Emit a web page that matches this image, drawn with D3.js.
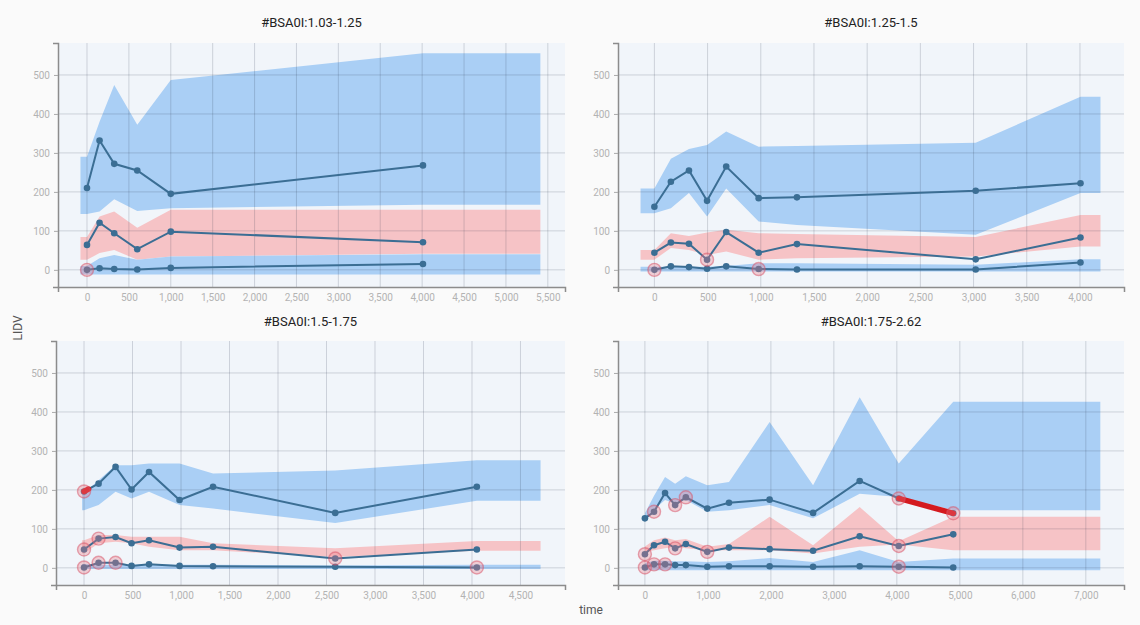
<!DOCTYPE html>
<html><head><meta charset="utf-8">
<script src="https://cdn.jsdelivr.net/npm/d3@7"></script>
<style>
html,body{margin:0;padding:0;background:#fafafa;}
svg{display:block;font-family:Roboto,"Noto Sans",sans-serif;}
</style></head><body>
<svg id="chart" width="1140" height="625"></svg>
<script>
// ---- Panel titles (BSA strata) ----
const titles = ["#BSA0I:1.03-1.25", "#BSA0I:1.25-1.5", "#BSA0I:1.5-1.75", "#BSA0I:1.75-2.62"];

// ---- Axis ticks ----
const yTicks = [0, 100, 200, 300, 400, 500];
const xTicks1 = [0, 500, 1000, 1500, 2000, 2500, 3000, 3500, 4000, 4500, 5000, 5500];
const xTicks2 = [0, 500, 1000, 1500, 2000, 2500, 3000, 3500, 4000];
const xTicks3 = [0, 500, 1000, 1500, 2000, 2500, 3000, 3500, 4000, 4500];
const xTicks4 = [0, 1000, 2000, 3000, 4000, 5000, 6000, 7000];

// ---- Time bins (observed) ----
const time1 = [0, 150, 325, 600, 1000, 4010];
const time2 = [0, 155, 325, 495, 675, 980, 1340, 3020, 4005];
const time3 = [0, 150, 325, 490, 670, 985, 1330, 2590, 4050];
const time4 = [0, 145, 320, 480, 650, 990, 1335, 1980, 2670, 3410, 4030, 4895];

// prediction-interval extent along time (bands are held flat beyond first/last bin)
const bandStart = [-78, -130, -20, 0];
const bandEnd = [5411, 4193, 4707, 7230];

// ---- Observed percentiles ----
const obs95_1 = [210, 332, 272, 255, 195, 268];
const obs50_1 = [64, 121, 94, 53, 98, 71];
const obs05_1 = [0, 4, 2, 1, 5, 15];

const obs95_2 = [162, 226, 255, 177, 265, 184, 186, 203, 222];
const obs50_2 = [44, 70, 67, 26, 97, 44, 66, 27, 83];
const obs05_2 = [0, 9, 7, 3, 9, 2, 1, 1, 19];

const obs95_3 = [196, 216, 259, 201, 246, 174, 208, 141, 208];
const obs50_3 = [47, 75, 79, 63, 71, 52, 54, 24, 47];
const obs05_3 = [1, 13, 13, 5, 9, 5, 4, 3, 1];

const obs95_4 = [127, 144, 192, 161, 181, 152, 167, 175, 141, 223, 178, 140];
const obs50_4 = [35, 58, 67, 50, 61, 41, 52, 48, 44, 81, 56, 86];
const obs05_4 = [1, 9, 9, 7, 7, 3, 4, 4, 3, 4, 3, 1];

// ---- Simulated confidence bands (lo / hi) ----
const ci95lo_1 = [143, 150, 181, 151, 158, 167];
const ci95hi_1 = [290, 380, 474, 372, 487, 556];
const ci50lo_1 = [26, 43, 51, 26, 34, 41];
const ci50hi_1 = [84, 137, 150, 108, 154, 154];
const ci05lo_1 = [-12, -12, -12, -12, -12, -12];
const ci05hi_1 = [10, 30, 38, 26, 34, 40];

const ci95lo_2 = [145, 158, 197, 137, 209, 124, 115, 90, 197];
const ci95hi_2 = [209, 285, 310, 320, 355, 316, 318, 326, 444];
const ci50lo_2 = [26, 56, 51, 38, 47, 26, 30, 34, 60];
const ci50hi_2 = [51, 94, 87, 96, 103, 94, 92, 84, 141];
const ci05lo_2 = [-4, -4, -4, -4, -4, -4, -4, -4, -4];
const ci05hi_2 = [8, 8, 8, 8, 10, 17, 17, 13, 27];

const ci95lo_3 = [148, 161, 195, 178, 195, 161, 152, 115, 172];
const ci95hi_3 = [192, 225, 263, 263, 268, 268, 242, 250, 276];
const ci50lo_3 = [37, 63, 67, 63, 54, 45, 45, 28, 44];
const ci50hi_3 = [71, 84, 84, 80, 80, 80, 63, 50, 69];
const ci05lo_3 = [-3, -3, -3, -3, -3, -3, -3, -3, -3];
const ci05hi_3 = [10, 8, 8, 8, 9, 8, 8, 6, 8];

const ci95lo_4 = [118, 150, 174, 165, 174, 144, 148, 161, 127, 190, 182, 148];
const ci95hi_4 = [140, 185, 233, 216, 235, 212, 220, 374, 212, 438, 268, 426];
const ci50lo_4 = [40, 45, 50, 54, 50, 45, 45, 45, 37, 54, 60, 45];
const ci50hi_4 = [55, 71, 78, 71, 74, 54, 61, 131, 58, 156, 68, 131];
const ci05lo_4 = [-6, -6, -6, -6, -6, -6, -6, -6, -6, -6, -6, -6];
const ci05hi_4 = [12, 18, 18, 17, 17, 15, 17, 25, 15, 45, 15, 24];

// ---- Observed points falling outside their interval (indices) ----
const out95 = [[], [], [0], [1, 3, 4, 10, 11]];
const out50 = [[], [3], [0, 1, 7], [0, 3, 5, 10]];
const out05 = [[0], [0, 5], [0, 1, 2, 8], [0, 1, 2, 10]];

// stretches of an observed line lying outside its interval (fractional bin index)
const outStretches = [
  {panel: 2, series: "p95", from: 0, to: 0.31},
  {panel: 3, series: "p95", from: 10, to: 11}
];

// ---- assemble per panel ----
const panels = [
  {title: titles[0], xTicks: xTicks1, time: time1, p95: obs95_1, p50: obs50_1, p05: obs05_1,
   bands: [[ci95lo_1, ci95hi_1, "blue"], [ci50lo_1, ci50hi_1, "pink"], [ci05lo_1, ci05hi_1, "blue"]]},
  {title: titles[1], xTicks: xTicks2, time: time2, p95: obs95_2, p50: obs50_2, p05: obs05_2,
   bands: [[ci95lo_2, ci95hi_2, "blue"], [ci50lo_2, ci50hi_2, "pink"], [ci05lo_2, ci05hi_2, "blue"]]},
  {title: titles[2], xTicks: xTicks3, time: time3, p95: obs95_3, p50: obs50_3, p05: obs05_3,
   bands: [[ci95lo_3, ci95hi_3, "blue"], [ci50lo_3, ci50hi_3, "pink"], [ci05lo_3, ci05hi_3, "blue"]]},
  {title: titles[3], xTicks: xTicks4, time: time4, p95: obs95_4, p50: obs50_4, p05: obs05_4,
   bands: [[ci95lo_4, ci95hi_4, "blue"], [ci50lo_4, ci50hi_4, "pink"], [ci05lo_4, ci05hi_4, "blue"]]}
];

// ---- layout ----
const frames = [
  {x0: 58, x1: 565, y0: 43, y1: 287, xd: [-346, 5705], ty: 27},
  {x0: 618, x1: 1124, y0: 43, y1: 287, xd: [-342, 4414], ty: 27},
  {x0: 56, x1: 565, y0: 341, y1: 585, xd: [-289, 4959], ty: 326},
  {x0: 618, x1: 1124, y0: 341, y1: 585, xd: [-427, 7606], ty: 326}
];
const yDomain = [-44, 582];
const colors = {blue: "#aacff5", pink: "#f6c3c6", line: "#3b6e94", bg: "#f1f5fa"};

const svg = d3.select("#chart");
svg.append("rect").attr("width", 1140).attr("height", 625).attr("fill", "#fafafa");
const fmt = d3.format(",");

panels.forEach((p, i) => {
  const f = frames[i];
  const x = d3.scaleLinear().domain(f.xd).range([f.x0, f.x1]);
  const y = d3.scaleLinear().domain(yDomain).range([f.y1, f.y0]);
  const g = svg.append("g");

  g.append("rect").attr("x", f.x0).attr("y", f.y0)
    .attr("width", f.x1 - f.x0).attr("height", f.y1 - f.y0).attr("fill", colors.bg);

  const clipId = "clip" + i;
  g.append("clipPath").attr("id", clipId).append("rect")
    .attr("x", f.x0).attr("y", f.y0).attr("width", f.x1 - f.x0).attr("height", f.y1 - f.y0);
  const plot = g.append("g").attr("clip-path", `url(#${clipId})`);

  // bands, extended flat to the interval extent
  const bx = [bandStart[i], ...p.time, bandEnd[i]];
  p.bands.forEach(([lo, hi, c]) => {
    const pts = bx.map((t, k) => {
      const j = Math.max(0, Math.min(p.time.length - 1, k - 1));
      return {t, lo: lo[j], hi: hi[j]};
    });
    plot.append("path").datum(pts)
      .attr("fill", colors[c])
      .attr("d", d3.area().x(d => x(d.t)).y0(d => y(d.lo)).y1(d => y(d.hi)));
  });

  // grid
  plot.selectAll(".vg").data(p.xTicks).join("line")
    .attr("x1", d => x(d)).attr("x2", d => x(d)).attr("y1", f.y0).attr("y2", f.y1)
    .attr("stroke", "rgba(40,50,70,0.18)").attr("stroke-width", 1);
  plot.selectAll(".hg").data(yTicks).join("line")
    .attr("x1", f.x0).attr("x2", f.x1).attr("y1", d => y(d)).attr("y2", d => y(d))
    .attr("stroke", "rgba(40,50,70,0.18)").attr("stroke-width", 1);

  // axes
  const ya = g.append("g").attr("transform", `translate(${f.x0},0)`)
    .call(d3.axisLeft(y).tickValues(yTicks).tickSize(4).tickSizeOuter(5).tickPadding(4));
  const xa = g.append("g").attr("transform", `translate(0,${f.y1})`)
    .call(d3.axisBottom(x).tickValues(p.xTicks).tickFormat(fmt).tickSize(0).tickSizeOuter(5).tickPadding(7));
  [ya, xa].forEach(a => {
    a.select(".domain").attr("stroke", "#8c8c8c").attr("stroke-width", 1.5);
    a.selectAll(".tick line").attr("stroke", "#aaa");
    a.selectAll(".tick text").attr("fill", "#b3b3b3").attr("font-size", 10)
      .attr("font-family", "Roboto, sans-serif");
  });

  // title
  g.append("text").attr("x", (f.x0 + f.x1) / 2).attr("y", f.ty)
    .attr("text-anchor", "middle").attr("font-size", 13).attr("font-weight", 400)
    .attr("fill", "#222").text(p.title);

  // observed lines
  const line = d3.line().x(d => x(d.t)).y(d => y(d.v));
  ["p95", "p50", "p05"].forEach(s => {
    const pts = p.time.map((t, k) => ({t, v: p[s][k]}));
    plot.append("path").datum(pts).attr("fill", "none")
      .attr("stroke", colors.line).attr("stroke-width", 2).attr("d", line);
    plot.selectAll(null).data(pts).join("circle")
      .attr("cx", d => x(d.t)).attr("cy", d => y(d.v)).attr("r", 3.3)
      .attr("fill", colors.line);
  });

  // out-of-interval stretches
  outStretches.filter(o => o.panel === i).forEach(o => {
    const at = fi => {
      const k = Math.min(Math.floor(fi), p.time.length - 2), r = fi - k;
      return {t: p.time[k] + r * (p.time[k + 1] - p.time[k]),
              v: p[o.series][k] + r * (p[o.series][k + 1] - p[o.series][k])};
    };
    const pts = [at(o.from)];
    for (let k = Math.ceil(o.from); k < o.to; k++) if (k > o.from) pts.push(at(k));
    pts.push(at(o.to));
    plot.append("path").datum(pts).attr("fill", "none")
      .attr("stroke", "#d41a1f").attr("stroke-width", 5.5).attr("stroke-linecap", "round")
      .attr("d", line);
  });

  // out-of-interval markers
  [["p95", out95[i]], ["p50", out50[i]], ["p05", out05[i]]].forEach(([s, idx]) => {
    plot.selectAll(null).data(idx).join("circle")
      .attr("cx", k => x(p.time[k])).attr("cy", k => y(p[s][k])).attr("r", 6.5)
      .attr("fill", "rgba(235,120,135,0.32)")
      .attr("stroke", "rgba(215,80,100,0.5)").attr("stroke-width", 1.4);
  });
});

// shared axis titles
svg.append("text").attr("transform", "translate(22,328) rotate(-90)")
  .attr("text-anchor", "middle").attr("font-size", 12).attr("fill", "#555").text("LIDV");
svg.append("text").attr("x", 591).attr("y", 614)
  .attr("text-anchor", "middle").attr("font-size", 12).attr("fill", "#555").text("time");
</script></body></html>
